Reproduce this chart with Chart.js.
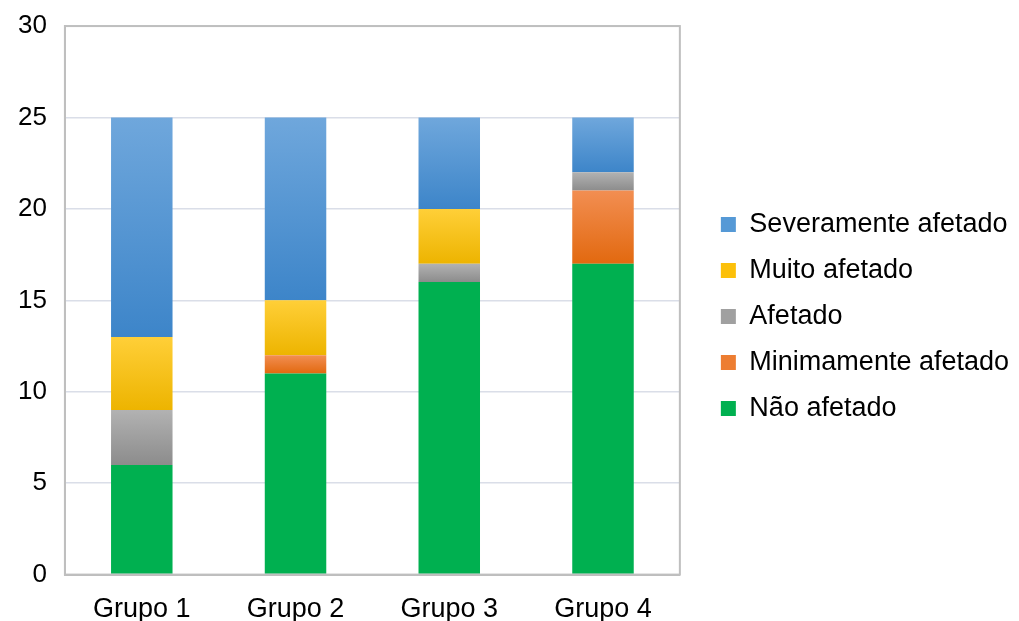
<!DOCTYPE html>
<html>
<head>
<meta charset="utf-8">
<script src="https://cdn.jsdelivr.net/npm/chart.js"></script>
<style>
  html, body { margin: 0; padding: 0; background: #fff; }
  #wrap { width: 1019px; height: 621px; }
</style>
</head>
<body>
<div id="wrap"><canvas id="chart"></canvas></div>
<script>
const grupos = ['Grupo 1', 'Grupo 2', 'Grupo 3', 'Grupo 4'];
const naoAfetado = [6, 11, 16, 17];
const minimamente = [0, 1, 0, 4];
const afetado = [3, 0, 1, 1];
const muitoAfetado = [4, 3, 3, 0];
const severamente = [12, 10, 5, 3];
const yTicks = [0, 5, 10, 15, 20, 25, 30];

const FONT = "'Liberation Sans', Arial, sans-serif";

// Excel-like vertical gradient per segment
function gradient(top, bottom, solid, values, below) {
  return ctx => {
    const chart = ctx.chart;
    const y = chart.scales && chart.scales.y;
    if (!chart.chartArea || !y || ctx.type !== 'data') return solid;
    const i = ctx.dataIndex;
    const start = below.reduce((s, arr) => s + arr[i], 0);
    const y0 = y.getPixelForValue(start);
    const y1 = y.getPixelForValue(start + values[i]);
    if (!isFinite(y0) || !isFinite(y1) || y0 === y1) return solid;
    const g = chart.ctx.createLinearGradient(0, y1, 0, y0);
    g.addColorStop(0, top);
    g.addColorStop(1, bottom);
    return g;
  };
}

const legendColors = ['#00b050', '#ed7d31', '#a0a0a0', '#fcc00a', '#5599d6'];

const plotFrame = {
  id: 'plotFrame',
  afterDraw(chart) {
    const { ctx, chartArea: a } = chart;
    ctx.save();
    ctx.strokeStyle = '#bfbfbf';
    ctx.lineWidth = 2;
    ctx.strokeRect(a.left, a.top, a.right - a.left, a.bottom - a.top);
    ctx.restore();
  }
};

new Chart(document.getElementById('chart'), {
  type: 'bar',
  data: {
    labels: grupos,
    datasets: [
      {
        label: 'Não afetado',
        data: naoAfetado,
        backgroundColor: '#00b050'
      },
      {
        label: 'Minimamente afetado',
        data: minimamente,
        backgroundColor: gradient('#f28e52', '#e2690f', '#ed7d31', minimamente, [naoAfetado])
      },
      {
        label: 'Afetado',
        data: afetado,
        backgroundColor: gradient('#b2b2b2', '#8c8c8c', '#a0a0a0', afetado, [naoAfetado, minimamente])
      },
      {
        label: 'Muito afetado',
        data: muitoAfetado,
        backgroundColor: gradient('#ffcf38', '#edb400', '#fcc00a', muitoAfetado, [naoAfetado, minimamente, afetado])
      },
      {
        label: 'Severamente afetado',
        data: severamente,
        backgroundColor: gradient('#6fa7dc', '#3d85c9', '#5599d6', severamente, [naoAfetado, minimamente, afetado, muitoAfetado])
      }
    ]
  },
  options: {
    responsive: true,
    maintainAspectRatio: false,
    animation: false,
    datasets: {
      bar: { barPercentage: 1, categoryPercentage: 0.4 }
    },
    layout: { padding: { top: -12, right: 0, left: 0, bottom: -24 } },
    scales: {
      x: {
        stacked: true,
        grid: { display: false, drawTicks: false },
        border: { display: true, color: '#bfbfbf', width: 2 },
        ticks: { color: '#000', font: { family: FONT, size: 27 }, padding: 19 }
      },
      y: {
        stacked: true,
        min: 0,
        max: 30,
        afterBuildTicks: axis => { axis.ticks = yTicks.map(v => ({ value: v })); },
        grid: { color: '#dadee8', lineWidth: 1.5, drawTicks: false },
        border: { display: true, color: '#bfbfbf', width: 2 },
        ticks: { color: '#000', font: { family: FONT, size: 26, lineHeight: 0.62 }, padding: 18 }
      },
      // empty spacer between plot area and legend
      gap: {
        type: 'linear',
        axis: 'y',
        position: 'right',
        grid: { display: false, drawTicks: false },
        border: { display: false },
        ticks: { display: false },
        afterFit: s => { s.width = 22; }
      }
    },
    plugins: {
      tooltip: { enabled: false },
      legend: {
        position: 'right',
        reverse: true,
        maxWidth: 360,
        labels: {
          color: '#000',
          font: { family: FONT, size: 27 },
          boxWidth: 15,
          boxHeight: 15,
          padding: 19,
          generateLabels: chart => {
            const items = Chart.defaults.plugins.legend.labels.generateLabels(chart);
            items.forEach(it => {
              it.fillStyle = legendColors[it.datasetIndex];
              it.strokeStyle = legendColors[it.datasetIndex];
              it.lineWidth = 0;
            });
            return items;
          }
        }
      }
    }
  },
  plugins: [plotFrame]
});
</script>
</body>
</html>
